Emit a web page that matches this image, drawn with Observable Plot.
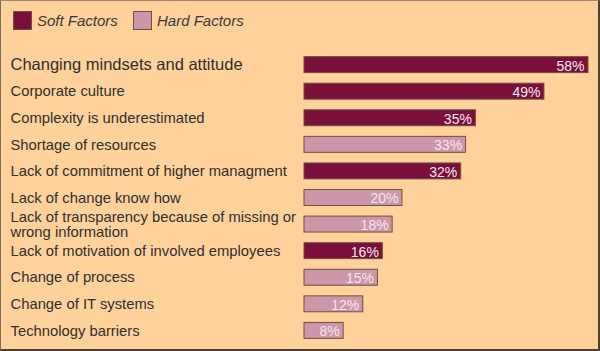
<!DOCTYPE html>
<html>
<head>
<meta charset="utf-8">
<script src="https://cdn.jsdelivr.net/npm/d3@7"></script>
<script src="https://cdn.jsdelivr.net/npm/@observablehq/plot@0.6"></script>
<style>
  html, body { margin: 0; padding: 0; background: #FFD29B; }
  #frame {
    box-sizing: border-box; width: 600px; height: 351px;
    background: #FFD29B;
    border-left: 1px solid #7d6a55; border-top: 1px solid #9a8670;
    border-right: 2px solid #4f4032; border-bottom: 2px solid #4f4032;
    font-family: "Liberation Sans", Arial, sans-serif;
    overflow: hidden;
  }
  #legend { height: 45px; position: relative; }
  .item { position: absolute; top: 10px; display: flex; align-items: center; }
  .sw { width: 19px; height: 19px; box-sizing: border-box; border: 1px solid #6e5040; }
  .lt { font-style: italic; font-size: 15px; color: #3a3a3a; margin-left: 5px; }
  svg { display: block; }
</style>
</head>
<body>
<div id="frame">
  <div id="legend"></div>
  <div id="chart"></div>
</div>
<script>
const labels = [
  "Changing mindsets and attitude",
  "Corporate culture",
  "Complexity is underestimated",
  "Shortage of resources",
  "Lack of commitment of higher managment",
  "Lack of change know how",
  "Lack of transparency because of missing or\nwrong information",
  "Lack of motivation of involved employees",
  "Change of process",
  "Change of IT systems",
  "Technology barriers"
];
const values = [58, 49, 35, 33, 32, 20, 18, 16, 15, 12, 8];
const types = ["Soft Factors","Soft Factors","Soft Factors","Hard Factors","Soft Factors","Hard Factors","Hard Factors","Soft Factors","Hard Factors","Hard Factors","Hard Factors"];
const seriesNames = ["Soft Factors", "Hard Factors"];
const seriesColors = ["#7A0F3C", "#CC97A8"];

const data = labels.map((label, i) => ({label, value: values[i], type: types[i]}));

// legend
const legend = document.getElementById("legend");
const legendX = [12, 132];
seriesNames.forEach((name, i) => {
  const it = document.createElement("div");
  it.className = "item";
  it.style.left = legendX[i] + "px";
  it.innerHTML = `<div class="sw" style="background:${seriesColors[i]}"></div><span class="lt">${name}</span>`;
  legend.appendChild(it);
});

const chart = Plot.plot({
  width: 597,
  height: 303,
  marginLeft: 303,
  marginRight: 10,
  marginTop: 0,
  marginBottom: 0,
  style: {background: "transparent", fontFamily: "'Liberation Sans', Arial, sans-serif"},
  x: {domain: [0, 58], axis: null},
  y: {domain: labels, padding: 0.4, round: false, axis: null},
  color: {domain: seriesNames, range: seriesColors},
  marks: [
    Plot.barX(data, {x: "value", y: "label", fill: "type", stroke: "#6e5040", strokeWidth: 1}),
    Plot.text(data.slice(0, 1), {x: 0, y: "label", text: "label", textAnchor: "start", dx: -294, fontSize: 16.5, fill: "#2f2f2f"}),
    Plot.text(data.slice(1), {x: 0, y: "label", text: "label", textAnchor: "start", dx: -294, fontSize: 14.8, lineHeight: 1.0, fill: "#2f2f2f"}),
    Plot.text(data, {x: "value", y: "label", text: d => d.value + "%", textAnchor: "end", dx: -4, dy: 1, fontSize: 14, fill: "#f6e6ee"})
  ]
});
document.getElementById("chart").appendChild(chart);
</script>
</body>
</html>
